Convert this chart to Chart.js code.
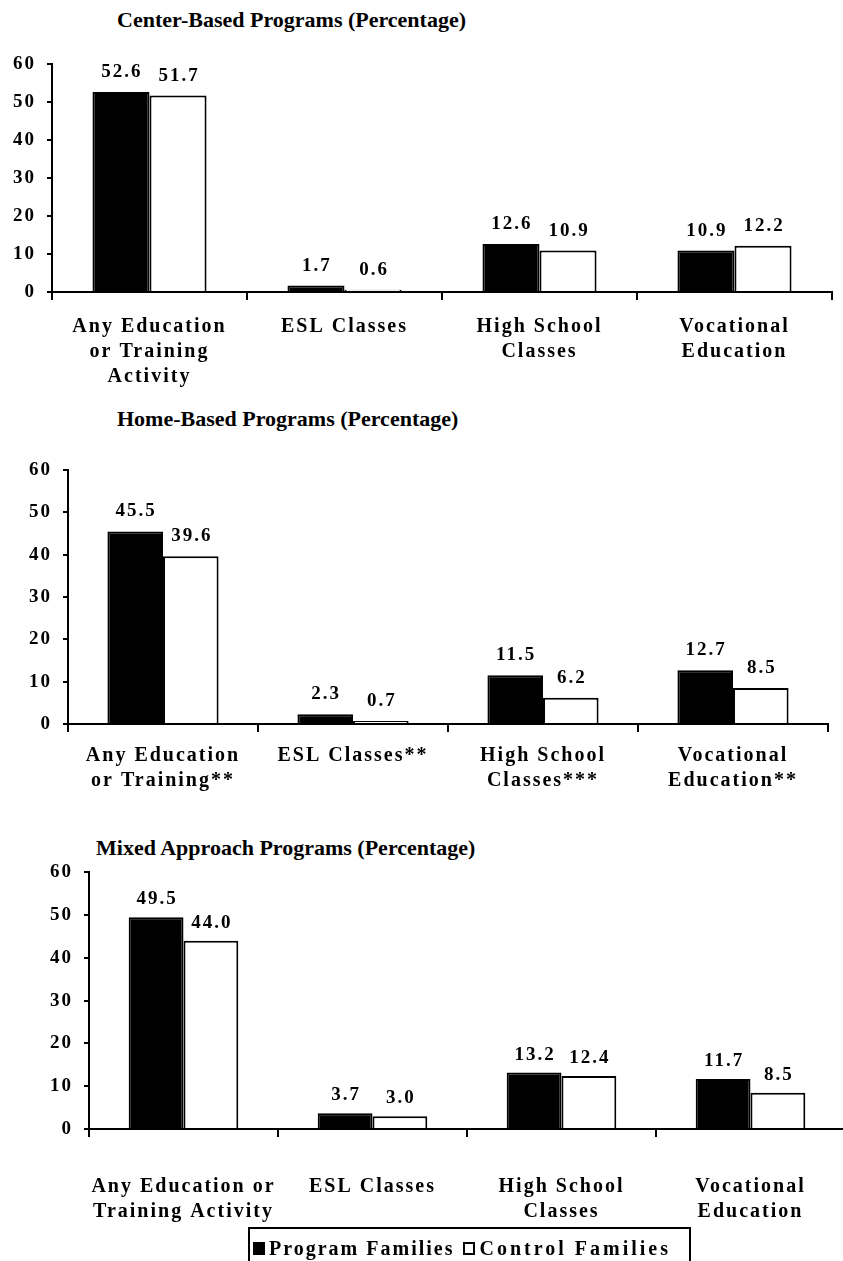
<!DOCTYPE html>
<html>
<head>
<meta charset="utf-8">
<script src="https://cdn.jsdelivr.net/npm/chart.js@4.4.1/dist/chart.umd.min.js"></script>
<style>
  html, body { margin: 0; padding: 0; background: #fff; }
  body { width: 843px; height: 1261px; position: relative; overflow: hidden; }
  .title { position: absolute; font-family: "Liberation Serif", serif; font-weight: bold; font-size: 22px; color: #000; white-space: nowrap; line-height: 1; }
  .panel { position: absolute; left: 0; }
  .legend { position: absolute; left: 248px; top: 1227px; width: 443px; height: 60px; border: 2px solid #000; box-sizing: border-box;
            font-family: "Liberation Serif", serif; font-weight: bold; font-size: 20px; color: #000; white-space: nowrap; }
  .legend .row { position: absolute; left: 3px; top: 8px; display: flex; align-items: center; }
  .sw { display: inline-block; width: 12px; height: 13px; box-sizing: border-box; }
  .sw.b { background: #000; margin-right: 4px; }
  .sw.w { background: #fff; border: 2px solid #000; margin-left: 9px; margin-right: 4px; }
  .t1 { letter-spacing: 2px; }
  .t2 { letter-spacing: 3px; }
</style>
</head>
<body>
<div class="title" style="left:117px; top:9px;">Center-Based Programs (Percentage)</div>
<div class="title" style="left:117px; top:408px;">Home-Based Programs (Percentage)</div>
<div class="title" style="left:96px; top:837px;">Mixed Approach Programs (Percentage)</div>

<div class="panel" style="top:40px;"><canvas id="c1" width="843" height="360"></canvas></div>
<div class="panel" style="top:440px;"><canvas id="c2" width="843" height="360"></canvas></div>
<div class="panel" style="top:850px;"><canvas id="c3" width="860" height="380"></canvas></div>

<div class="legend"><div class="row"><span class="sw b"></span><span class="t1">Program Families</span><span class="sw w"></span><span class="t2">Control Families</span></div></div>

<script>
// ---- Data ----
const seriesNames = ["Program Families", "Control Families"];
const yTickValues = [0, 10, 20, 30, 40, 50, 60];

const categoriesCenter = [["Any Education", "or Training", "Activity"], "ESL Classes", ["High School", "Classes"], ["Vocational", "Education"]];
const programCenter = [52.6, 1.7, 12.6, 10.9];
const controlCenter = [51.7, 0.6, 10.9, 12.2];

const categoriesHome = [["Any Education", "or Training**"], "ESL Classes**", ["High School", "Classes***"], ["Vocational", "Education**"]];
const programHome = [45.5, 2.3, 11.5, 12.7];
const controlHome = [39.6, 0.7, 6.2, 8.5];

const categoriesMixed = [["Any Education or", "Training Activity"], "ESL Classes", ["High School", "Classes"], ["Vocational", "Education"]];
const programMixed = [49.5, 3.7, 13.2, 11.7];
const controlMixed = [44.0, 3.0, 12.4, 8.5];

// ---- Helpers ----
const FONT = "Liberation Serif";
const SPACING = "2px";

const spacing = {
  id: "spacing",
  beforeUpdate(chart) { chart.ctx.letterSpacing = SPACING; },
  beforeLayout(chart) { chart.ctx.letterSpacing = SPACING; },
  beforeDraw(chart) { chart.ctx.letterSpacing = SPACING; }
};

const valueLabels = {
  id: "valueLabels",
  afterDatasetsDraw(chart, args, opts) {
    const ctx = chart.ctx;
    ctx.save();
    ctx.letterSpacing = SPACING;
    ctx.font = "bold 19px '" + FONT + "'";
    ctx.fillStyle = "#000";
    ctx.textAlign = "center";
    ctx.textBaseline = "alphabetic";
    chart.data.datasets.forEach((ds, di) => {
      const meta = chart.getDatasetMeta(di);
      meta.data.forEach((el, i) => {
        ctx.fillText(ds.data[i].toFixed(1), el.x + 1, el.y - (opts.offset || 14));
      });
    });
    ctx.restore();
  }
};

function makeChart(id, cats, prog, ctrl, cfg) {
  const ctx = document.getElementById(id);
  const H = ctx.height;
  return new Chart(ctx, {
    type: "bar",
    data: {
      labels: cats,
      datasets: [
        { label: seriesNames[0], data: prog, backgroundColor: "#000", borderColor: "#000", borderWidth: 2,
          barPercentage: 1, categoryPercentage: cfg.catPct },
        { label: seriesNames[1], data: ctrl, backgroundColor: "#fff", borderColor: "#000", borderWidth: 2,
          barPercentage: 1, categoryPercentage: cfg.catPct }
      ]
    },
    options: {
      responsive: false,
      animation: false,
      layout: { padding: { top: cfg.top, right: cfg.right, left: 0, bottom: 0 } },
      plugins: {
        legend: { display: false },
        tooltip: { enabled: false },
        valueLabels: { offset: cfg.labelOffset }
      },
      scales: {
        x: {
          offset: true,
          afterFit: (s) => { s.height = H - cfg.bottom; },
          grid: { offset: true, drawOnChartArea: false, drawTicks: true, tickLength: 8, color: "#000", lineWidth: 2 },
          border: { display: true, color: "#000", width: 2 },
          ticks: { color: "#000", padding: cfg.xPad, maxRotation: 0, autoSkip: false,
                   font: { family: FONT, weight: "bold", size: 20, lineHeight: 1.25 } }
        },
        y: {
          min: 0, max: 60,
          afterFit: (s) => { s.width = cfg.left; },
          afterBuildTicks: (s) => { s.ticks = yTickValues.map(v => ({ value: v })); },
          grid: { drawOnChartArea: false, drawTicks: true, tickLength: 5, color: "#000", lineWidth: 2 },
          border: { display: true, color: "#000", width: 2 },
          ticks: { color: "#000", padding: 11, font: { family: FONT, weight: "bold", size: 19 } }
        }
      }
    },
    plugins: [spacing, valueLabels]
  });
}

makeChart("c1", categoriesCenter, programCenter, controlCenter,
  { left: 52, top: 24, right: 11, bottom: 252, catPct: 0.585, xPad: 14, labelOffset: 15 });
makeChart("c2", categoriesHome, programHome, controlHome,
  { left: 68, top: 30, right: 15, bottom: 284, catPct: 0.585, xPad: 11, labelOffset: 15 });
makeChart("c3", categoriesMixed, programMixed, controlMixed,
  { left: 89, top: 19, right: 15, bottom: 279, catPct: 0.58, xPad: 37, labelOffset: 13 });
</script>
</body>
</html>
